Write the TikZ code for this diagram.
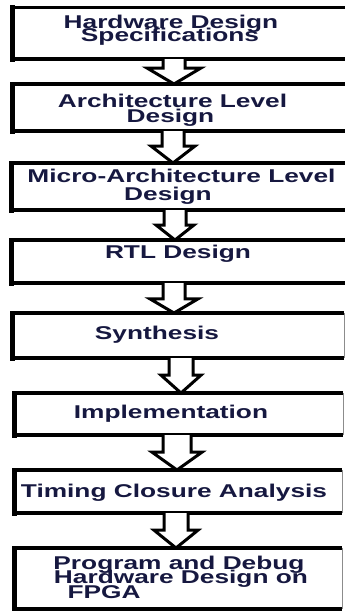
\documentclass[tikz,border=0pt]{standalone}
\usepackage{fontspec}
\newfontfamily\boxfont[FakeStretch=1.42]{Liberation Sans}
\usetikzlibrary{calc}
\definecolor{inkblue}{RGB}{22,24,64}
\tikzset{
  stage/.style={draw=none, inner sep=0pt, outer sep=0pt},
  frame/.style={draw=black, line width=3.3pt, line join=miter},
  frameleft/.style={draw=black, line width=5pt, line cap=rect},
  frameright/.style={draw=black!45, line width=1pt},
  hollow/.style={draw=black, fill=white, line width=3pt, line join=miter},
  lbl/.style={anchor=base, inner sep=0pt, outer sep=0pt, text=inkblue,
    font=\boxfont\bfseries\fontsize{18.5}{18.5}\selectfont}
}
% a stage box given by left, top, right, bottom
\newcommand\stagebox[5]{%
  \node[stage, minimum width={(#4-#2)*1pt}, minimum height={(#5-#3)*1pt}]
    (#1) at ({(#2+#4)/2},{(#3+#5)/2}) {};
  \draw[frameright] (#1.north east) -- (#1.south east);
  \draw[frame] (#1.north east) -- (#1.north west) -- (#1.south west) -- (#1.south east);
  \draw[frameleft] (#1.north west) -- (#1.south west);
}
% hollow block arrow: from, to, centre x, shaft half width, head half width, head start fraction
\newcommand\flowarrow[6]{%
  \draw[hollow] let \p1=(#1.south), \p2=(#2.north), \n1={\y1+(\y2-\y1)*#6} in
    ({(#3-#4)*1pt},\y1) -- ({(#3-#4)*1pt},{\n1*1pt}) -- ({(#3-#5)*1pt},{\n1*1pt})
    -- ({#3*1pt},\y2) -- ({(#3+#5)*1pt},{\n1*1pt}) -- ({(#3+#4)*1pt},{\n1*1pt})
    -- ({(#3+#4)*1pt},\y1);
}
\begin{document}
\begin{tikzpicture}[x=1pt, y=-1pt]
  \fill[white] (0,0) rectangle (345,611);
  \useasboundingbox (0,0) rectangle (345,611);

  \stagebox{b1}{12}{7.5}{352}{59}
  \stagebox{b2}{12}{84}{352}{131}
  \stagebox{b3}{11}{163}{352}{210}
  \stagebox{b4}{11}{240}{352}{283}
  \stagebox{b5}{12.5}{313}{344}{358}
  \stagebox{b6}{14}{393}{343}{435}
  \stagebox{b7}{14}{470}{342}{513}
  \stagebox{b8}{14}{548}{342}{609}

  \flowarrow{b1}{b2}{174}{11}{27}{0.36}
  \flowarrow{b2}{b3}{173}{11}{22}{0.47}
  \flowarrow{b3}{b4}{175}{11}{19}{0.50}
  \flowarrow{b4}{b5}{174}{11}{24}{0.53}
  \flowarrow{b5}{b6}{181}{12}{20}{0.49}
  \flowarrow{b6}{b7}{177}{14}{25}{0.49}
  \flowarrow{b7}{b8}{176}{12}{22}{0.49}

  \node[lbl] (t1a) at (171,28)  {Hardware Design};
  \node[lbl] (t1b) at (170,41.5)  {Specifications};
  \node[lbl] (t2a) at (172.5,107) {Architecture Level};
  \node[lbl] (t2b) at (170.5,122) {Design};
  \node[lbl] (t3a) at (181.5,182) {Micro-Architecture Level};
  \node[lbl] (t3b) at (168,200) {Design};
  \node[lbl] (t4)  at (178,258) {RTL Design};
  \node[lbl] (t5)  at (157,339) {Synthesis};
  \node[lbl] (t6)  at (171,418) {Implementation};
  \node[lbl] (t7)  at (174,497) {Timing Closure Analysis};
  \node[lbl] (t8a) at (179,569) {Program and Debug};
  \node[lbl] (t8b) at (181,583.5) {Hardware Design on};
  \node[lbl] (t8c) at (104,598) {FPGA};
\end{tikzpicture}
\end{document}
